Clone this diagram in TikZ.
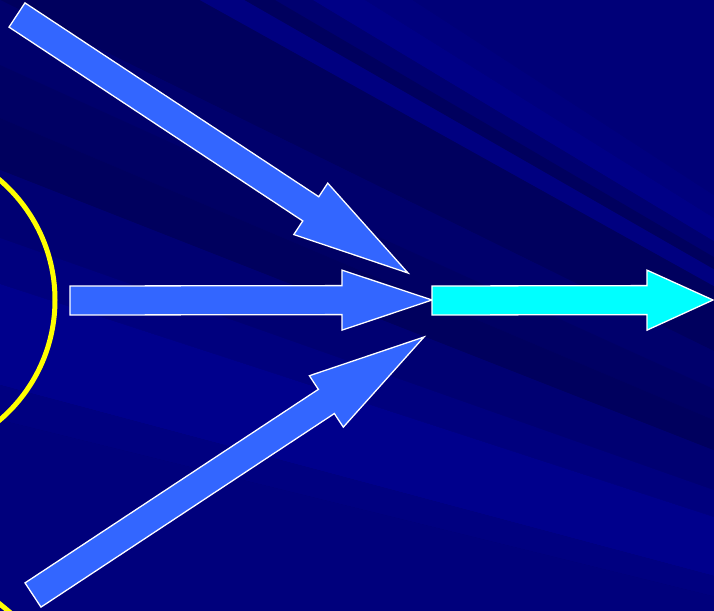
\documentclass[tikz,border=0pt]{standalone}
\usetikzlibrary{calc}
\definecolor{bgbase}{HTML}{000070}
\definecolor{arrowblue}{HTML}{3366FF}
\definecolor{arrowcyan}{HTML}{00FFFF}
\definecolor{ringyellow}{HTML}{FFFF00}
\tikzset{
  bluearrow/.style={fill=arrowblue, draw=white, line width=1.3pt, line join=miter},
  cyanarrow/.style={fill=arrowcyan, draw=white, line width=1.3pt, line join=miter},
  ring/.style={draw=ringyellow, line width=5pt},
}
% fan band: colour, upper and lower y where the band meets the left edge
\newcommand\fanband[3]{\fill[fill={rgb,255:red,0;green,0;blue,#1}] (focus) -- (0,#2) -- (0,#3) -- cycle;}
% block arrow: name, style, tail, tip, shaft half width, head half width, head length
\newcommand\fatarrow[7]{%
  \coordinate (#1-base) at ($(#4)!#7!(#3)$);
  \path[#2] ($(#3)!#5!90:(#4)$) -- ($(#1-base)!#5!90:(#4)$) -- ($(#1-base)!#6!90:(#4)$)
    -- (#4) -- ($(#1-base)!#6!-90:(#4)$) -- ($(#1-base)!#5!-90:(#4)$)
    -- ($(#3)!#5!-90:(#4)$) -- cycle;}
\begin{document}
\begin{tikzpicture}[x=1pt,y=-1pt]
\useasboundingbox (0,0) rectangle (714,610);
\clip (0,0) rectangle (714,610);
\fill[bgbase] (0,0) rectangle (714,610);
\coordinate (focus) at (1716,844);
\fanband{120}{-3000}{-267}
\fanband{126}{-267}{-228}
\fanband{134}{-228}{-188}
\fanband{112}{-188}{-161}
\fanband{94}{-161}{-140}
\fanband{128}{-140}{-111}
\fanband{94}{-111}{0}
\fanband{108}{0}{65}
\fanband{100}{65}{118}
\fanband{94}{118}{170}
\fanband{114}{170}{238}
\fanband{126}{238}{284}
\fanband{140}{284}{385}
\fanband{128}{385}{420}
\fanband{124}{420}{3000}
% yellow ring
\coordinate (ringc) at (-103,300);
\draw[ring] (ringc) circle (158pt);
\coordinate (ylA) at (-5,600);
\coordinate (ylB) at (12,614);
\draw[ring] (ylA) -- (ylB);
% arrows
\coordinate (topT) at (17,15);
\coordinate (topP) at (408,273);
\coordinate (midT) at (70,300.5);
\coordinate (midP) at (432,300);
\coordinate (botT) at (33,595);
\coordinate (botP) at (424,337);
\coordinate (outT) at (432,300.5);
\coordinate (outP) at (713,300);
\fatarrow{top}{bluearrow}{topT}{topP}{14.5pt}{30.8pt}{116.5pt}
\fatarrow{mid}{bluearrow}{midT}{midP}{14.5pt}{30pt}{90pt}
\fatarrow{bot}{bluearrow}{botT}{botP}{14.5pt}{30.8pt}{117pt}
\fatarrow{out}{cyanarrow}{outT}{outP}{14.5pt}{30pt}{66pt}
\end{tikzpicture}
\end{document}
